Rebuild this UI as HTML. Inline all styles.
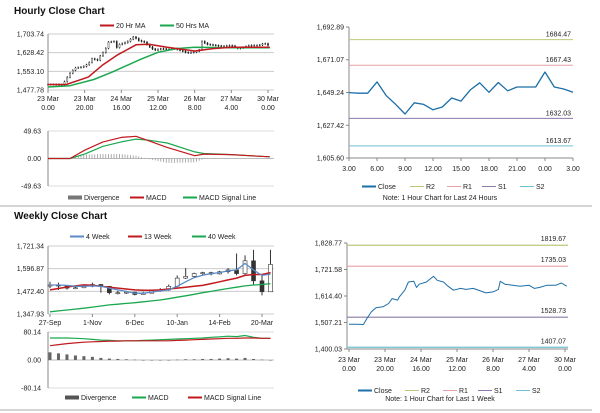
<!DOCTYPE html>
<html><head><meta charset="utf-8"><style>
body{margin:0;background:#fff;}
svg{display:block;font-family:"Liberation Sans",sans-serif;}
text{font-size:7px;fill:#222;}
.t{font-size:10px;font-weight:bold;fill:#111;}
</style></head><body>
<svg id="s" width="600" height="413" viewBox="0 0 600 413" xmlns="http://www.w3.org/2000/svg">
<text class="t" x="14" y="14">Hourly Close Chart</text>
<text class="t" x="14" y="219">Weekly Close Chart</text>
<line x1="0" y1="206" x2="592" y2="206" stroke="#aaa"/>
<line x1="0" y1="410" x2="592" y2="410" stroke="#aaa"/>
</svg>
<script>
// ---- data ----
const hrHours=[0,4,8,10,12.4,15,19,22,24,27,28,31,33,36,37.5,39,43,46,47,49,52.5,55,58,62,65,69,73,76,80,83,84,86.6,91,95,100,103,106,110,115,118,121];
const hrClose=[1500,1500,1499,1524,1550,1567,1571,1584,1604,1598,1611,1638,1671,1674,1649,1662,1671,1689,1694,1678,1671,1654,1638,1645,1641,1645,1635,1627,1631,1641,1674,1662,1658,1654,1658,1645,1649,1658,1658,1667,1654];
const ma20Hours=[0,10,22,30,38,48,55,65,75,80,90,100,121];
const ma20=[1500,1500,1530,1580,1620,1660,1662,1650,1640,1635,1645,1650,1650];
const ma50Hours=[0,12,25,35,50,60,70,80,100,121];
const ma50=[1490,1495,1520,1550,1600,1630,1645,1650,1648,1648];
const hMacdHours=[0,12,20,30,40,48,55,65,80,85,100,110,121];
const hMacd=[0,0,15,30,38,40,32,20,5,8,7,5,3];
const hSignal=[0,0,8,22,30,35,33,28,12,9,7,5,3];
const hYTicks=[1703.74,1628.42,1553.10,1477.78];
const hXTicks=[["23 Mar","0.00"],["23 Mar","20.00"],["24 Mar","16.00"],["25 Mar","12.00"],["26 Mar","8.00"],["27 Mar","4.00"],["30 Mar","0.00"]];
const dayClose=[1649.2,1648.8,1648.8,1656.3,1647.1,1641.3,1634.9,1642.4,1641.3,1637.7,1639.6,1645.6,1643.5,1651.0,1655.7,1649.4,1655.9,1650.4,1652.9,1652.9,1652.9,1662.9,1652.9,1651.6,1649.4];
const dayTicks=["3.00","6.00","9.00","12.00","15.00","18.00","21.00","0.00","3.00"];
const dayY=[1692.89,1671.07,1649.24,1627.42,1605.60];
const dayLevels=[1684.47,1667.43,1632.03,1613.67];
const wkLevels=[1819.67,1735.03,1528.73,1407.07];
const wkY=[1828.77,1721.58,1614.40,1507.21,1400.03];
const wClose=[1507,1505,1490,1492,1500,1510,1500,1465,1465,1468,1455,1462,1475,1480,1500,1545,1555,1570,1575,1568,1580,1590,1570,1640,1530,1470,1620];
const wHigh=[1525,1520,1505,1500,1510,1520,1512,1475,1475,1475,1470,1470,1480,1490,1510,1560,1600,1575,1580,1580,1585,1600,1680,1670,1700,1560,1700];
const wLow=[1490,1480,1482,1485,1490,1495,1465,1455,1455,1458,1450,1455,1462,1470,1475,1495,1540,1550,1560,1560,1565,1570,1560,1560,1510,1450,1470];
const w4=[1507,1507,1505,1500,1500,1502,1500,1490,1480,1472,1462,1462,1468,1475,1480,1500,1525,1548,1561,1570,1575,1585,1590,1626,1590,1560,1567];
const w13=[1480,1488,1496,1502,1508,1506,1500,1495,1490,1485,1480,1478,1478,1480,1485,1490,1495,1500,1505,1515,1525,1535,1545,1560,1565,1565,1575];
const w40=[1360,1365,1370,1375,1380,1386,1392,1398,1402,1406,1410,1415,1420,1425,1432,1440,1448,1456,1465,1472,1480,1488,1495,1502,1507,1510,1515];
const wYTicks=[1721.34,1596.87,1472.40,1347.93];
const wXLabels=["27-Sep","1-Nov","6-Dec","10-Jan","14-Feb","20-Mar"];
const wXIdx=[0,5,10,15,20,25];
const wMacd=[63,63,63,62,61,59,57,56,55,55,55,56,57,58,59,60,61,62,63,65,66,68,67,70,65,62,62];
const wSignal=[41,44,47,49,51,52,53,54,54,55,55,55,55,55,55,56,57,58,59,60,61,62,62,63,63,62,62];
const wDiv=[22,19,16,13,11,9,6,4,3,2,1,0,-1,-1,0,1,2,2,3,3,4,5,4,6,3,1,0];

// ---- helpers ----
const S=document.getElementById('s');const NS='http://www.w3.org/2000/svg';
function mk(tag,at,txt){const e=document.createElementNS(NS,tag);for(const k in at)e.setAttribute(k,at[k]);if(txt!==undefined)e.textContent=txt;S.appendChild(e);return e;}
function lin(d0,d1,r0,r1){return v=>r0+(v-d0)/(d1-d0)*(r1-r0);}
function fmt(v){return v.toLocaleString('en-US',{minimumFractionDigits:2,maximumFractionDigits:2});}
function path(xs,ys,X,Y,col,w,name){let d='';xs.forEach((x,i)=>{d+=(i?'L':'M')+X(x).toFixed(1)+','+Y(ys[i]).toFixed(1);});const e=mk('path',{d:d,fill:'none',stroke:col,'stroke-width':w,'stroke-linejoin':'round'});

return e;}
function txt(x,y,s,anchor,name){const e=mk('text',{x:x,y:y,'text-anchor':anchor||'start'},s);

return e;}
function hline(x1,x2,y,col,name,w){const e=mk('line',{x1:x1,x2:x2,y1:y,y2:y,stroke:col,'stroke-width':w||1});

return e;}
function vline(x,y1,y2,col,name){const e=mk('line',{x1:x,x2:x,y1:y1,y2:y2,stroke:col,'stroke-width':1});

return e;}
function legend(items,y){items.forEach(it=>{const l=hline(it[0],it[0]+14,y-2.5,it[2],'legend-swatch',it[3]||2);const t=txt(it[0]+16,y,it[1],'start','legend-entry');});}
function interp(xs,ys,x){for(let i=1;i<xs.length;i++){if(x<=xs[i]){const f=(x-xs[i-1])/(xs[i]-xs[i-1]);return ys[i-1]+f*(ys[i]-ys[i-1]);}}return ys[ys.length-1];}

// ---- Hourly candle chart ----
{const X=lin(0,120,48,268),Y=lin(1477.78,1703.74,90,34);
hYTicks.forEach(v=>{hline(48,274,Y(v),'#ccc','gridline');txt(44,Y(v)+2.5,fmt(v),'end','y-tick-label');});
vline(48,34,90,'#888','y-axis');
hXTicks.forEach((t,i)=>{const x=X(i*20);vline(x,90,93,'#888','x-tick');txt(x,101,t[0],'middle','x-tick-label');txt(x,110,t[1],'middle','x-tick-label');});
for(let h=0;h<=121;h+=1.5){const c=interp(hrHours,hrClose,h),o=interp(hrHours,hrClose,Math.max(0,h-1.5));
 const hi=Math.max(o,c)+4,lo=Math.min(o,c)-4;vline(X(h),Y(hi),Y(lo),'#222','candle-wick');
 const r=mk('rect',{x:X(h)-0.6,y:Y(Math.max(o,c)),width:1.2,height:Math.max(0.6,Math.abs(Y(o)-Y(c))),fill:c>=o?'#fff':'#222',stroke:'#222','stroke-width':0.4});
 
 }
path(ma50Hours,ma50,X,Y,'#1aa84f',1.5,'ma50-line');path(ma20Hours,ma20,X,Y,'#c0191e',1.5,'ma20-line');
legend([[100,'20 Hr MA','#c0191e'],[160,'50 Hrs MA','#1aa84f']],28);
// MACD
const Ym=lin(-49.63,49.63,186,131);
[49.63,0,-49.63].forEach(v=>{hline(48,274,Ym(v),v==0?'#bbb':'#ddd','macd-gridline');txt(41,Ym(v)+2.5,fmt(v),'end','macd-y-tick');});
vline(48,131,186,'#888','macd-y-axis');
for(let h=0;h<=120;h+=1.5){const d=interp(hMacdHours,hMacd,h)-interp(hMacdHours,hSignal,h);const r=mk('rect',{x:X(h)-0.4,y:Math.min(Ym(d),Ym(0)),width:0.8,height:Math.abs(Ym(d)-Ym(0)),fill:'#999'});
 
 }
path(hMacdHours,hSignal,X,Ym,'#1aa84f',1.2,'macd-signal-line');path(hMacdHours,hMacd,X,Ym,'#c0191e',1.2,'macd-line');
legend([[68,'Divergence','#777',4],[130,'MACD','#c0191e'],[183,'MACD Signal Line','#1aa84f']],200);}

// ---- Right hourly 24h ----
{const X=lin(0,24,349,573),Y=lin(1605.6,1692.89,158,27);
dayY.forEach(v=>{vline(349,27,158,'#888','y-axis');hline(346,349,Y(v),'#888','y-tick');txt(344,Y(v)+2.5,fmt(v),'end','y-tick-label');});
hline(349,573,158,'#888','x-axis');
dayTicks.forEach((t,i)=>{vline(X(i*3),158,161,'#888','x-tick');txt(X(i*3),171,t,'middle','x-tick-label');});
const cols=['#b9c97a','#e6a0a6','#8a7aa8','#6fc1d3'];
dayLevels.forEach((v,i)=>{hline(349,573,Y(v),cols[i],'level-line');txt(571,Y(v)-3,v.toFixed(2),'end','level-label');});
path(dayClose.map((v,i)=>i),dayClose,X,Y,'#1c6fa8',1.3,'close-line');
legend([[362,'Close','#1c6fa8'],[410,'R2','#b9c97a',1],[447,'R1','#e6a0a6',1],[482,'S1','#8a7aa8',1],[520,'S2','#6fc1d3',1]],189);
const n=txt(440,200,'Note: 1 Hour Chart for Last 24 Hours','middle','chart-note');n.setAttribute('font-size','5.5');}

// ---- Weekly candle chart ----
{const X=lin(0,25,50,262),Y=lin(1347.93,1721.34,314,246);
wYTicks.forEach(v=>{hline(48,274,Y(v),'#ccc','gridline');txt(44,Y(v)+2.5,fmt(v),'end','y-tick-label');});
vline(48,246,314,'#888','y-axis');
wXLabels.forEach((t,i)=>{vline(X(wXIdx[i]),314,317,'#888','x-tick');txt(X(wXIdx[i]),325,t,'middle','x-tick-label');});
wClose.forEach((c,i)=>{const o=i?wClose[i-1]:c-5;vline(X(i),Y(wHigh[i]),Y(wLow[i]),'#333','candle-wick');
 const r=mk('rect',{x:X(i)-2,y:Y(Math.max(o,c)),width:4,height:Math.max(1,Math.abs(Y(o)-Y(c))),fill:c>=o?'#fff':'#333',stroke:'#333','stroke-width':0.6});
 
 });
const idx=wClose.map((v,i)=>i);
path(idx,w40,X,Y,'#1aa84f',1.3,'ma40-line');path(idx,w13,X,Y,'#c0191e',1.5,'ma13-line');path(idx,w4,X,Y,'#5b8ac6',1.3,'ma4-line');
legend([[70,'4 Week','#5b8ac6'],[128,'13 Week','#c0191e'],[192,'40 Week','#1aa84f']],239);
const Ym=lin(-80.14,80.14,388,332);
[80.14,0,-80.14].forEach(v=>{hline(48,274,Ym(v),v==0?'#bbb':'#ddd','macd-gridline');txt(41,Ym(v)+2.5,fmt(v),'end','macd-y-tick');});
vline(48,332,388,'#888','macd-y-axis');
wDiv.forEach((d,i)=>{const r=mk('rect',{x:X(i)-1.5,y:Math.min(Ym(d),Ym(0)),width:3,height:Math.max(0.5,Math.abs(Ym(d)-Ym(0))),fill:'#666'});
 
 });
path(idx,wMacd,X,Ym,'#1aa84f',1.2,'weekly-macd-line');path(idx,wSignal,X,Ym,'#c0191e',1.2,'weekly-signal-line');
legend([[65,'Divergence','#555',4],[132,'MACD','#1aa84f'],[188,'MACD Signal Line','#c0191e']],400);}

// ---- Right weekly 1-week ----
{const X=lin(0,120,349,565),Y=lin(1400.03,1828.77,349,243);
vline(347,243,349,'#888','y-axis');hline(347,568,349,'#888','x-axis');
wkY.forEach(v=>{hline(344,347,Y(v),'#888','y-tick');txt(342,Y(v)+2.5,fmt(v),'end','y-tick-label');});
hXTicks.forEach((t,i)=>{const x=X(i*20);vline(x,349,352,'#888','x-tick');txt(x,362,t[0],'middle','x-tick-label');txt(x,371,t[1],'middle','x-tick-label');});
const cols=['#b9c97a','#e6a0a6','#8a7aa8','#6fc1d3'];
wkLevels.forEach((v,i)=>{hline(347,568,Y(v),cols[i],'level-line',1.2);txt(566,Y(v)-4,v.toFixed(2),'end','level-label');});
path(hrHours,hrClose,X,Y,'#1c6fa8',1,'weekly-close-line');
legend([[358,'Close','#1c6fa8'],[405,'R2','#b9c97a',1],[443,'R1','#e6a0a6',1],[478,'S1','#8a7aa8',1],[516,'S2','#6fc1d3',1]],393);
const n=txt(440,401,'Note: 1 Hour Chart for Last 1 Week','middle','chart-note');n.setAttribute('font-size','5.5');}
</script>
</body></html>
